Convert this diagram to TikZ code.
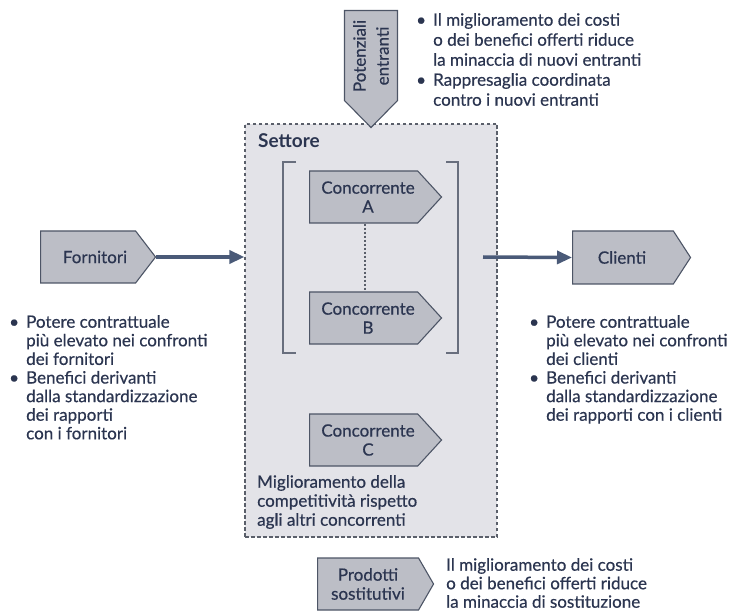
\documentclass[tikz,border=0pt]{standalone}
\usepackage{fontspec}
\setmainfont{Lato}[UprightFeatures={FakeBold=0.5}]
\usetikzlibrary{shapes.symbols,arrows.meta,calc}
\definecolor{ink}{HTML}{2B3550}
\definecolor{edge}{HTML}{4D5566}
\definecolor{boxfill}{HTML}{BCBEC6}
\definecolor{areafill}{HTML}{E3E3E8}
\definecolor{dashcol}{HTML}{5A5F6A}
\definecolor{flow}{HTML}{4A5A78}
\newcommand\bulitem{\makebox[17pt][l]{\textbullet}}
\newcommand\indline{\hspace*{17pt}}
\begin{document}
\begin{tikzpicture}[x=1pt,y=-1pt,
  font=\fontsize{17}{19}\selectfont,
  every node/.style={text=ink},
  tag/.style={signal, signal pointer angle=#1, draw=edge, fill=boxfill,
    line width=1.1pt, inner sep=0pt},
  taglabel/.style={align=center, inner sep=0pt, font=\fontsize{17}{19}\selectfont},
  txt/.style={inner sep=0pt, align=left, anchor=north west},
  area/.style={draw=dashcol, fill=areafill, line width=1.2pt,
    dash pattern=on 3.5pt off 2.5pt, inner sep=0pt},
  flowarrow/.style={draw=flow, line width=3.5pt,
    -{Triangle[length=15pt,width=13pt]}},
  bracket/.style={draw=edge!85, line width=1.3pt}
]
\useasboundingbox (0,0) rectangle (736,612);

% industry area
\node[area, minimum width=252pt, minimum height=413pt] (settore) at (371,330.5) {};
\node[txt, font=\fontsize{19}{21}\selectfont\bfseries] (settorelbl) at (258,133) {Settore};

% new entrants, pointing down into the area
\node[tag=89, signal to=south, minimum width=53pt, minimum height=90pt,
  anchor=north] (entranti) at (371,10) {};
\node[taglabel, rotate=90, font=\fontsize{17}{23}\selectfont]
  (entrantilbl) at (371,56) {Potenziali\\entranti};

% competitors
\coordinate (linkx) at (365,0);
\node[tag=95, signal to=east, minimum width=132pt, minimum height=52pt,
  anchor=west] (concA) at (309,197) {};
\node[taglabel] (concAlbl) at (368,197) {Concorrente\\A};
\node[tag=95, signal to=east, minimum width=132pt, minimum height=52pt,
  anchor=west] (concB) at (309,318) {};
\node[taglabel] (concBlbl) at (368,318) {Concorrente\\B};
\node[tag=95, signal to=east, minimum width=132pt, minimum height=52pt,
  anchor=west] (concC) at (309,440) {};
\node[taglabel] (concClbl) at (368,440) {Concorrente\\C};
\draw[draw=dashcol, line width=1.4pt, dash pattern=on 2pt off 2pt]
  (concA.south -| linkx) -- (concB.north -| linkx);

% brackets grouping A and B
\draw[bracket] (296,162) -- (283,162) -- (283,353) -- (296,353);
\draw[bracket] (446,162) -- (458,162) -- (458,353) -- (446,353);

% suppliers and customers
\node[tag=105, signal to=east, minimum width=115pt, minimum height=52pt,
  anchor=west] (fornitori) at (40,257) {};
\node[taglabel] (fornitorilbl) at (95,257) {Fornitori};
\node[tag=114, signal to=east, minimum width=118pt, minimum height=53pt,
  anchor=west] (clienti) at (572,257.5) {};
\node[taglabel] (clientilbl) at (622,257.5) {Clienti};
\coordinate (outstart) at (483,257);
\draw[flowarrow] (fornitori.east) -- (fornitori.east -| settore.west);
\draw[flowarrow] (outstart) -- (clienti.west);

% substitutes
\node[tag=120, signal to=east, minimum width=116pt, minimum height=52pt,
  anchor=west] (sostitutivi) at (317,584) {};
\node[taglabel] (sostitutivilbl) at (368,584) {Prodotti\\sostitutivi};

% explanatory texts
\node[txt, font=\fontsize{17}{20}\selectfont] (toptext) at (416,13) {%
\bulitem Il miglioramento dei costi\\
\indline o dei benefici offerti riduce\\
\indline la minaccia di nuovi entranti\\
\bulitem Rappresaglia coordinata\\
\indline contro i nuovi entranti};

\node[txt, font=\fontsize{17}{18.6}\selectfont] (lefttext) at (9,315) {%
\bulitem Potere contrattuale\\
\indline più elevato nei confronti\\
\indline dei fornitori\\
\bulitem Benefici derivanti\\
\indline dalla standardizzazione\\
\indline dei rapporti\\
\indline con i fornitori};

\node[txt, font=\fontsize{17}{18.6}\selectfont] (righttext) at (529,315) {%
\bulitem Potere contrattuale\\
\indline più elevato nei confronti\\
\indline dei clienti\\
\bulitem Benefici derivanti\\
\indline dalla standardizzazione\\
\indline dei rapporti con i clienti};

\node[txt, font=\fontsize{17}{19}\selectfont] (areatext) at (257,475) {%
Miglioramento della\\
competitività rispetto\\
agli altri concorrenti};

\node[txt, font=\fontsize{17}{18.5}\selectfont] (bottomtext) at (446,558) {%
Il miglioramento dei costi\\
o dei benefici offerti riduce\\
la minaccia di sostituzione};
\end{tikzpicture}
\end{document}
